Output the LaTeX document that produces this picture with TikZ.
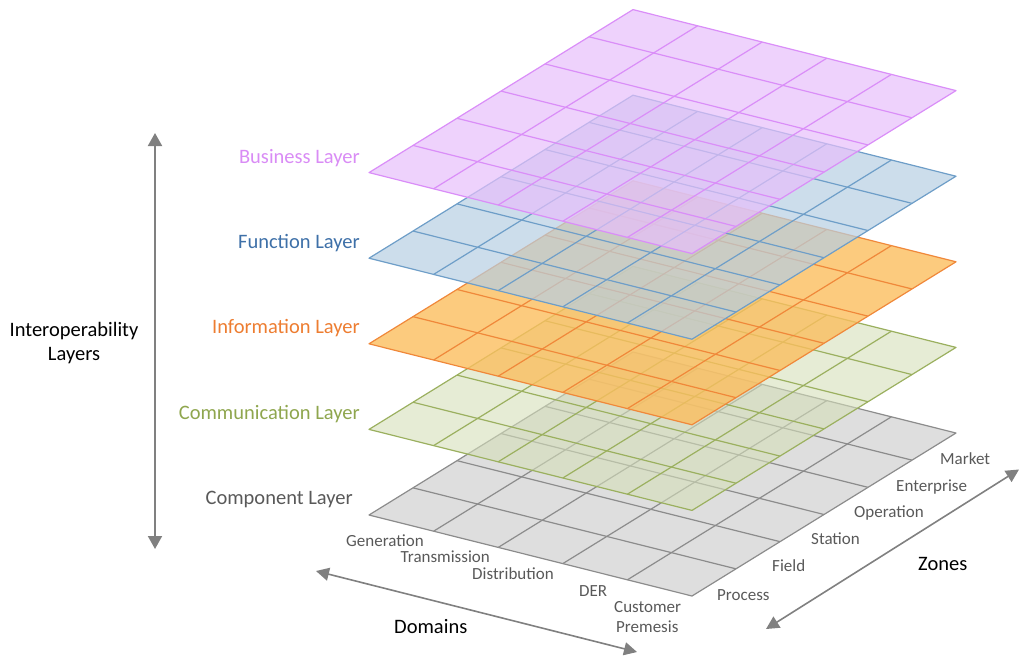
\documentclass[tikz,border=0pt]{standalone}
\usepackage{fontspec}
\setmainfont{Carlito}
\usetikzlibrary{arrows.meta}
\definecolor{gryF}{HTML}{DEDEDE}
\definecolor{gryL}{HTML}{8C8C8C}
\definecolor{grnF}{HTML}{D5DFB9}
\definecolor{grnL}{HTML}{9BB05F}
\definecolor{orgF}{HTML}{FBBE5E}
\definecolor{orgL}{HTML}{F0883A}
\definecolor{bluF}{HTML}{B6CEE2}
\definecolor{bluL}{HTML}{6E9EC8}
\definecolor{pnkF}{HTML}{E7BFFB}
\definecolor{pnkL}{HTML}{DA8EF8}
\definecolor{txtBiz}{HTML}{D98CF5}
\definecolor{txtFun}{HTML}{3E70A8}
\definecolor{txtInf}{HTML}{ED7D31}
\definecolor{txtCom}{HTML}{8FA64E}
\definecolor{txtGry}{HTML}{595959}
\definecolor{arrGry}{HTML}{808080}
\newcommand\sgamlayer[5]{%
  \coordinate (#1L) at (369,#2);
  \coordinate (#1B) at (692,{#2+81});
  \coordinate (#1R) at (956,{#2-82});
  \coordinate (#1T) at (633,{#2-163});
  \fill[#3, fill opacity=#4] (#1L) -- (#1B) -- (#1R) -- (#1T) -- cycle;
  \foreach \i in {1,...,4}{\draw[gridline, #5] ({369+\i*64.6},{#2+\i*16.2}) -- ++(264,-163);}
  \foreach \j in {1,...,5}{\draw[gridline, #5] ({369+\j*44},{#2-\j*163/6}) -- ++(323,81);}
  \draw[gridline, #5] (#1L) -- (#1B) -- (#1R) -- (#1T) -- cycle;
}
\tikzset{
  gridline/.style={line width=1.2pt, line join=round},
  lab/.style={inner sep=0pt, font=\fontsize{20.5}{24}\selectfont},
  small/.style={inner sep=0pt, text=txtGry, font=\fontsize{17}{20}\selectfont},
  axarrow/.style={draw=arrGry, line width=1.6pt,
    {Triangle[length=13pt,width=13pt]}-{Triangle[length=13pt,width=13pt]}}
}
\begin{document}
\begin{tikzpicture}[x=1pt,y=-1pt]
\useasboundingbox (0,0) rectangle (1020,657);
% layers, bottom to top
\sgamlayer{comp}{515}{gryF}{1}{gryL}
\sgamlayer{comm}{429.4}{grnF}{0.6}{grnL}
\sgamlayer{info}{343.8}{orgF}{0.8}{orgL}
\sgamlayer{func}{258.2}{bluF}{0.7}{bluL}
\sgamlayer{busi}{172.6}{pnkF}{0.7}{pnkL}
% layer labels
\node[lab, text=txtBiz, anchor=base east] (lbusi) at (360,163) {Business Layer};
\node[lab, text=txtFun, anchor=base east] (lfunc) at (360,248.3) {Function Layer};
\node[lab, text=txtInf, anchor=base east] (linfo) at (360,333.5) {Information Layer};
\node[lab, text=txtCom, anchor=base east] (lcomm) at (360,419) {Communication Layer};
\node[lab, text=txtGry, anchor=base east] (lcomp) at (353,504.5) {Component Layer};
\node[lab, text=black, anchor=base] (linter) at (74,336.7) {Interoperability};
\node[lab, text=black, anchor=base] (llayers) at (74,360.7) {Layers};
% domains
\node[small, anchor=base west] (dgen) at (346,546) {Generation};
\node[small, anchor=base west] (dtra) at (400.5,562.5) {Transmission};
\node[small, anchor=base west] (ddis) at (472,579) {Distribution};
\node[small, anchor=base west] (dder) at (579,596) {DER};
\node[small, anchor=base west] (dcus) at (614,612.5) {Customer};
\node[small, anchor=base west] (dpre) at (616,632.5) {Premesis};
\node[lab, text=black, anchor=base west] (ldom) at (394,633) {Domains};
% zones
\node[small, anchor=base west] (zmar) at (940,464) {Market};
\node[small, anchor=base west] (zent) at (896,491) {Enterprise};
\node[small, anchor=base west] (zope) at (854,517.5) {Operation};
\node[small, anchor=base west] (zsta) at (811,544) {Station};
\node[small, anchor=base west] (zfie) at (772,571.5) {Field};
\node[small, anchor=base west] (zpro) at (717,600) {Process};
\node[lab, text=black, anchor=base west] (lzon) at (918,570.5) {Zones};
% axes
\coordinate (vtop) at (155,133);
\coordinate (vbot) at (155,549);
\draw[axarrow, line width=2pt, {Triangle[length=13pt,width=14pt]}-{Triangle[length=13pt,width=14pt]}] (vtop) -- (vbot);
\coordinate (dleft) at (316,571);
\coordinate (dright) at (637,652);
\draw[axarrow] (dleft) -- (dright);
\coordinate (zlow) at (766,629);
\coordinate (zhigh) at (1019,469.5);
\draw[axarrow] (zlow) -- (zhigh);
\end{tikzpicture}
\end{document}
